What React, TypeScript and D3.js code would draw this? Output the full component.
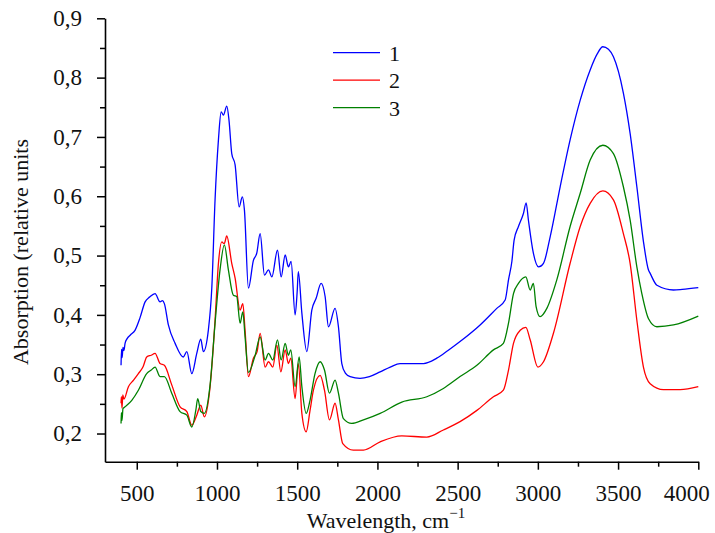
import React, { useEffect, useRef } from "react";
import * as d3 from "d3";

// spectrum 1 (blue)
const wave1 = [402, 405, 409, 414, 420, 427, 440, 460, 489, 520, 552, 580, 614, 645, 660, 672, 697, 739, 790, 812, 843, 874, 899, 915, 946, 968, 988, 1009, 1026, 1040, 1061, 1075, 1092, 1113, 1138, 1158, 1171, 1196, 1227, 1248, 1269, 1296, 1321, 1342, 1377, 1400, 1425, 1445, 1462, 1487, 1500, 1507, 1529, 1560, 1591, 1618, 1649, 1674, 1695, 1736, 1757, 1778, 1800, 1830, 1892, 1950, 2017, 2080, 2141, 2287, 2370, 2440, 2515, 2640, 2744, 2796, 2817, 2838, 2852, 2879, 2910, 2927, 2941, 2972, 3004, 3035, 3077, 3139, 3201, 3264, 3326, 3370, 3405, 3440, 3471, 3533, 3575, 3617, 3660, 3689, 3700, 3742, 3845, 3900, 4000];
const abs1 = [0.315, 0.342, 0.328, 0.345, 0.340, 0.352, 0.360, 0.366, 0.374, 0.395, 0.422, 0.430, 0.436, 0.422, 0.424, 0.419, 0.383, 0.352, 0.329, 0.338, 0.301, 0.335, 0.359, 0.338, 0.374, 0.447, 0.594, 0.695, 0.742, 0.737, 0.752, 0.728, 0.672, 0.653, 0.582, 0.599, 0.577, 0.445, 0.492, 0.504, 0.537, 0.467, 0.476, 0.464, 0.509, 0.464, 0.501, 0.481, 0.490, 0.400, 0.440, 0.473, 0.403, 0.338, 0.408, 0.428, 0.453, 0.431, 0.380, 0.411, 0.380, 0.318, 0.302, 0.296, 0.293, 0.296, 0.304, 0.312, 0.318, 0.318, 0.327, 0.340, 0.355, 0.383, 0.411, 0.425, 0.459, 0.490, 0.526, 0.549, 0.571, 0.589, 0.560, 0.504, 0.481, 0.487, 0.532, 0.616, 0.695, 0.762, 0.813, 0.840, 0.852, 0.848, 0.835, 0.774, 0.706, 0.616, 0.520, 0.476, 0.470, 0.450, 0.442, 0.443, 0.446];

// spectrum 2 (red)
const wave2 = [402, 404, 408, 413, 420, 448, 480, 510, 540, 562, 590, 614, 645, 672, 718, 770, 812, 843, 874, 899, 921, 957, 988, 1009, 1030, 1045, 1061, 1092, 1113, 1144, 1161, 1175, 1196, 1227, 1250, 1269, 1300, 1321, 1348, 1373, 1398, 1425, 1445, 1460, 1487, 1507, 1529, 1556, 1580, 1601, 1643, 1670, 1701, 1736, 1757, 1784, 1850, 1913, 2017, 2152, 2308, 2411, 2515, 2620, 2723, 2785, 2817, 2848, 2890, 2925, 2952, 3000, 3035, 3097, 3201, 3264, 3326, 3405, 3471, 3533, 3575, 3617, 3658, 3700, 3783, 3887, 4000];
const abs2 = [0.251, 0.262, 0.243, 0.265, 0.258, 0.279, 0.290, 0.301, 0.313, 0.329, 0.332, 0.335, 0.318, 0.315, 0.282, 0.245, 0.237, 0.214, 0.231, 0.248, 0.228, 0.279, 0.391, 0.487, 0.523, 0.520, 0.533, 0.487, 0.462, 0.408, 0.419, 0.374, 0.296, 0.327, 0.338, 0.369, 0.312, 0.321, 0.312, 0.349, 0.304, 0.341, 0.318, 0.327, 0.259, 0.318, 0.234, 0.203, 0.239, 0.273, 0.298, 0.273, 0.223, 0.251, 0.223, 0.183, 0.172, 0.172, 0.186, 0.196, 0.194, 0.206, 0.220, 0.239, 0.262, 0.273, 0.307, 0.352, 0.374, 0.379, 0.358, 0.312, 0.321, 0.369, 0.487, 0.549, 0.588, 0.609, 0.594, 0.537, 0.487, 0.391, 0.312, 0.284, 0.274, 0.274, 0.279];

// spectrum 3 (green)
const wave3 = [402, 404, 408, 414, 427, 469, 510, 562, 590, 614, 645, 672, 718, 770, 812, 843, 868, 880, 899, 921, 957, 988, 1019, 1046, 1071, 1102, 1123, 1144, 1161, 1175, 1196, 1238, 1269, 1300, 1321, 1348, 1377, 1400, 1425, 1445, 1460, 1487, 1512, 1529, 1556, 1580, 1611, 1643, 1670, 1701, 1736, 1757, 1788, 1840, 1913, 2017, 2152, 2308, 2411, 2515, 2620, 2723, 2785, 2817, 2848, 2879, 2925, 2952, 2972, 2989, 3014, 3056, 3118, 3201, 3264, 3326, 3405, 3471, 3533, 3575, 3617, 3648, 3689, 3742, 3845, 4000];
const abs3 = [0.217, 0.235, 0.222, 0.242, 0.245, 0.256, 0.273, 0.301, 0.307, 0.312, 0.296, 0.296, 0.268, 0.237, 0.231, 0.211, 0.239, 0.259, 0.237, 0.234, 0.282, 0.386, 0.476, 0.518, 0.476, 0.433, 0.431, 0.386, 0.405, 0.363, 0.303, 0.332, 0.363, 0.324, 0.335, 0.324, 0.358, 0.324, 0.352, 0.332, 0.341, 0.279, 0.329, 0.279, 0.234, 0.256, 0.301, 0.321, 0.307, 0.268, 0.290, 0.268, 0.225, 0.217, 0.223, 0.234, 0.253, 0.262, 0.276, 0.296, 0.315, 0.341, 0.352, 0.386, 0.436, 0.453, 0.464, 0.442, 0.453, 0.414, 0.397, 0.411, 0.459, 0.549, 0.605, 0.661, 0.686, 0.672, 0.616, 0.560, 0.481, 0.436, 0.394, 0.380, 0.383, 0.398];

const seriesNames = ["1", "2", "3"];
const seriesColors = ["#0000ff", "#ff0000", "#008000"];

const xMajor = [500, 1000, 1500, 2000, 2500, 3000, 3500, 4000];
const xMinor = [750, 1250, 1750, 2250, 2750, 3250, 3750];
const yMajor = [0.2, 0.3, 0.4, 0.5, 0.6, 0.7, 0.8, 0.9];
const yMinor = [0.25, 0.35, 0.45, 0.55, 0.65, 0.75, 0.85];

const W = 715;
const H = 533;
const FONT = "Liberation Serif, Times New Roman, DejaVu Serif, serif";

const App: React.FC = () => {
    const svgRef = useRef<SVGSVGElement | null>(null);

    useEffect(() => {
        if (!svgRef.current) return;
        const svg = d3.select(svgRef.current);
        svg.selectAll("*").remove();

        const x = d3.scaleLinear().domain([302, 4000]).range([105, 698.3]);
        const y = d3.scaleLinear().domain([0.1525, 0.9]).range([461.7, 18.3]);

        const comma = (d: any) => d3.format(".1f")(d).replace(".", ",");

        // minor ticks first, then major with labels
        const yMinorG = svg.append("g").attr("transform", "translate(105,0)")
            .call(d3.axisLeft(y).tickValues(yMinor).tickSize(5).tickSizeOuter(0).tickFormat(() => ""));
        yMinorG.select(".domain").remove();
        const xMinorG = svg.append("g").attr("transform", "translate(0,461.7)")
            .call(d3.axisBottom(x).tickValues(xMinor).tickSize(5).tickSizeOuter(0).tickFormat(() => ""));
        xMinorG.select(".domain").remove();

        const yAxis = svg.append("g").attr("transform", "translate(105,0)")
            .call(d3.axisLeft(y).tickValues(yMajor).tickSize(8).tickSizeOuter(0).tickPadding(15).tickFormat(comma));
        const xAxis = svg.append("g").attr("transform", "translate(0,461.7)")
            .call(d3.axisBottom(x).tickValues(xMajor).tickSize(8).tickSizeOuter(0).tickPadding(15).tickFormat(d3.format("d")));

        svg.selectAll(".tick line").attr("stroke", "#000").attr("stroke-width", 1.5);
        svg.selectAll(".domain").attr("stroke", "#000").attr("stroke-width", 1.6);
        [yAxis, xAxis].forEach(a => {
            a.attr("font-family", null).attr("font-size", null);
            a.selectAll("text")
                .style("font-family", FONT).style("font-size", "23px").attr("fill", "#111");
        });
        // the last x label sits a little inside the plot edge, as in the original
        xAxis.selectAll<SVGTextElement, number>("text").filter(d => d === 4000).attr("dx", -12);

        const line = d3.line<[number, number]>()
            .x(d => x(d[0]))
            .y(d => y(d[1]))
            .curve(d3.curveMonotoneX);

        const series = [
            wave1.map((w, i) => [w, abs1[i]] as [number, number]),
            wave2.map((w, i) => [w, abs2[i]] as [number, number]),
            wave3.map((w, i) => [w, abs3[i]] as [number, number]),
        ];

        [1, 2, 0].forEach(i => {
            svg.append("path")
                .datum(series[i])
                .attr("fill", "none")
                .attr("stroke", seriesColors[i])
                .attr("stroke-width", 1.3)
                .attr("d", line);
        });

        // legend
        const legend = svg.append("g");
        seriesNames.forEach((name, i) => {
            const ly = 52.7 + i * 27.5;
            legend.append("line")
                .attr("x1", 333).attr("x2", 380)
                .attr("y1", ly).attr("y2", ly)
                .attr("stroke", seriesColors[i]).attr("stroke-width", 1.3);
            legend.append("text")
                .attr("x", 389).attr("y", ly + 8)
                .style("font-family", FONT).style("font-size", "22px").attr("fill", "#111")
                .text(name);
        });

        // axis titles
        const xt = svg.append("text")
            .attr("x", 386).attr("y", 528)
            .attr("text-anchor", "middle")
            .style("font-family", FONT).style("font-size", "22px").attr("fill", "#111");
        xt.append("tspan").text("Wavelength, cm");
        xt.append("tspan").attr("dy", -10).style("font-size", "15px").text("\u22121");

        svg.append("text")
            .attr("transform", "translate(28,252) rotate(-90)")
            .attr("text-anchor", "middle")
            .style("font-family", FONT).style("font-size", "22px").attr("fill", "#111")
            .text("Absorption (relative units");
    }, []);

    return (
        <svg ref={svgRef} width={W} height={H}
            style={{ position: "absolute", left: 0, top: 0, background: "#fff" }} />
    );
};

export default App;
